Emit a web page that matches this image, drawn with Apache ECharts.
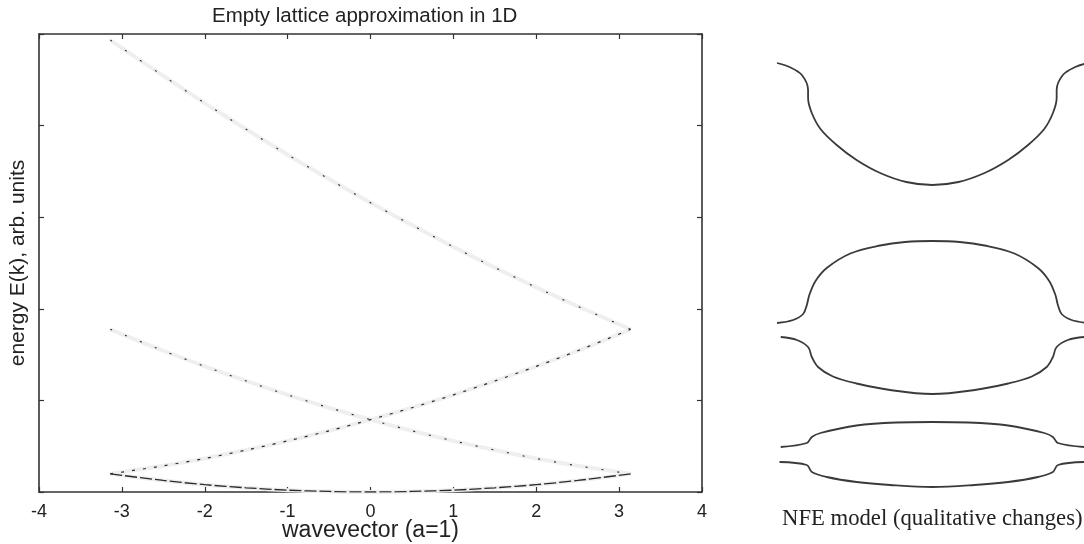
<!DOCTYPE html>
<html>
<head>
<meta charset="utf-8">
<script src="https://cdn.jsdelivr.net/npm/echarts@6/dist/echarts.min.js"></script>
<style>html,body{margin:0;padding:0;background:#fff}#c{width:1084px;height:544px}</style>
</head>
<body>
<div id="c"></div>
<script>
// ---- Left panel: empty lattice bands (wavevector k, energy E) ----
var kVals = [-3.14, -2.5, -2, -1.5, -1, -0.5, 0, 0.5, 1, 1.5, 2, 2.5, 3.14];
var band0 = [9.9, 6.3, 4.0, 2.3, 1.0, 0.3, 0, 0.3, 1.0, 2.3, 4.0, 6.3, 9.9];
var bandPlus = [9.9, 14.3, 18.3, 22.9, 27.9, 33.4, 39.5, 46.0, 53.0, 60.6, 68.6, 77.1, 88.8];
var bandMinus = [88.8, 77.1, 68.6, 60.6, 53.0, 46.0, 39.5, 33.4, 27.9, 22.9, 18.3, 14.3, 9.9];
var bandMinus2 = [246.7, 227.1, 212.3, 198.0, 184.1, 170.8, 157.9, 145.7, 133.8, 122.5, 111.7, 101.4, 88.8];
var xTicks = [-4, -3, -2, -1, 0, 1, 2, 3, 4];

// ---- Right panel: NFE model qualitative curves (k in zone units, E arb.) ----
var nfeTopK = [-1.25, -1.15, -1.05, -1.00, -1.00, -0.97, -0.90, -0.77, -0.61, -0.42, -0.21, 0, 0.21, 0.42, 0.61, 0.77, 0.90, 0.97, 1.00, 1.00, 1.05, 1.15, 1.25];
var nfeTopE = [8.74, 8.66, 8.50, 8.20, 8.04, 7.74, 7.42, 7.10, 6.80, 6.54, 6.36, 6.30, 6.36, 6.54, 6.80, 7.10, 7.42, 7.74, 8.04, 8.20, 8.50, 8.66, 8.74];
var nfeMidUpK = [-1.25, -1.12, -1.04, -1.01, -0.99, -0.94, -0.85, -0.66, -0.42, -0.22, 0, 0.22, 0.42, 0.66, 0.85, 0.94, 0.99, 1.01, 1.04, 1.12, 1.25];
var nfeMidUpE = [3.54, 3.60, 3.72, 3.90, 4.10, 4.38, 4.64, 4.93, 5.09, 5.16, 5.18, 5.16, 5.09, 4.93, 4.64, 4.38, 4.10, 3.90, 3.72, 3.60, 3.54];
var nfeMidLoK = [-1.22, -1.09, -1.00, -0.97, -0.92, -0.80, -0.61, -0.34, 0, 0.34, 0.61, 0.80, 0.92, 0.97, 1.00, 1.09, 1.22];
var nfeMidLoE = [3.26, 3.20, 3.06, 2.86, 2.66, 2.47, 2.33, 2.20, 2.12, 2.20, 2.33, 2.47, 2.66, 2.86, 3.06, 3.20, 3.26];
var nfeLowUpK = [-1.22, -1.01, -0.97, -0.90, -0.61, -0.29, 0, 0.29, 0.61, 0.90, 0.97, 1.01, 1.22];
var nfeLowUpE = [1.06, 1.14, 1.26, 1.34, 1.49, 1.55, 1.56, 1.55, 1.49, 1.34, 1.26, 1.14, 1.06];
var nfeLowLoK = [-1.23, -1.01, -0.97, -0.85, -0.61, -0.34, 0, 0.34, 0.61, 0.85, 0.97, 1.01, 1.23];
var nfeLowLoE = [0.76, 0.70, 0.56, 0.46, 0.36, 0.30, 0.26, 0.30, 0.36, 0.46, 0.56, 0.70, 0.76];

function zip(a, b) { return a.map(function (v, i) { return [v, b[i]]; }); }

var sans = "'Liberation Sans', Arial, sans-serif";
var axisCol = '#333';

function bandSeries(vals, dash, width) {
  return [
    { type: 'line', xAxisIndex: 0, yAxisIndex: 0, data: zip(kVals, vals), showSymbol: false, smooth: 0.3,
      lineStyle: { color: '#efefef', width: 4 }, silent: true, z: 2 },
    { type: 'line', xAxisIndex: 0, yAxisIndex: 0, data: zip(kVals, vals), showSymbol: false, smooth: 0.3,
      lineStyle: { color: '#2a2a2a', width: width, type: dash }, silent: true, z: 3 }
  ];
}
function nfeSeries(k, e) {
  return { type: 'line', xAxisIndex: 2, yAxisIndex: 2, data: zip(k, e), showSymbol: false, smooth: 0.35,
    lineStyle: { color: '#3a3a3a', width: 1.8 }, silent: true, z: 3 };
}

var series = []
  .concat(bandSeries(band0, [12, 3], 1.3))
  .concat(bandSeries(bandPlus, [3, 8], 1.2))
  .concat(bandSeries(bandMinus, [2, 14], 1.1))
  .concat(bandSeries(bandMinus2, [2, 16], 1.1));
series.push(nfeSeries(nfeTopK, nfeTopE));
series.push(nfeSeries(nfeMidUpK, nfeMidUpE));
series.push(nfeSeries(nfeMidLoK, nfeMidLoE));
series.push(nfeSeries(nfeLowUpK, nfeLowUpE));
series.push(nfeSeries(nfeLowLoK, nfeLowLoE));

function frameAxis() {
  return {
    axisLine: { show: true, onZero: false, lineStyle: { color: axisCol, width: 1.6 } },
    axisTick: { show: true, inside: true, length: 5, lineStyle: { color: axisCol, width: 1.2 } },
    splitLine: { show: false }
  };
}

var chart = echarts.init(document.getElementById('c'), null, { renderer: 'canvas' });
chart.setOption({
  animation: false,
  backgroundColor: '#fff',
  grid: [
    { left: 39, right: 382, top: 34, bottom: 52, containLabel: false, outerBoundsMode: 'none' },
    { left: 777, right: 0, top: 50, bottom: 44, containLabel: false, outerBoundsMode: 'none' }
  ],
  xAxis: [
    Object.assign(frameAxis(), { type: 'value', gridIndex: 0, min: xTicks[0], max: xTicks[xTicks.length - 1], interval: 1, position: 'bottom',
      axisLabel: { fontSize: 18, color: '#222', fontFamily: sans, margin: 11 },
      name: 'wavevector (a=1)', nameLocation: 'middle', nameGap: 27, nameMoveOverlap: false,
      nameTextStyle: { fontSize: 23, color: '#222', fontFamily: sans } }),
    Object.assign(frameAxis(), { type: 'value', gridIndex: 0, min: -4, max: 4, interval: 1, position: 'top', axisLabel: { show: false } }),
    { type: 'value', gridIndex: 1, min: -1.25, max: 1.22, show: false }
  ],
  yAxis: [
    Object.assign(frameAxis(), { type: 'value', gridIndex: 0, min: 0, max: 250, interval: 50, position: 'left', axisLabel: { show: false },
      name: 'energy E(k), arb. units', nameLocation: 'middle', nameGap: 10, nameMoveOverlap: false,
      nameTextStyle: { fontSize: 21, color: '#222', fontFamily: sans } }),
    Object.assign(frameAxis(), { type: 'value', gridIndex: 0, min: 0, max: 250, interval: 50, position: 'right', axisLabel: { show: false } }),
    { type: 'value', gridIndex: 1, min: 0, max: 9, show: false }
  ],
  graphic: [
    { type: 'text', left: 212, top: 6, style: { text: 'Empty lattice approximation in 1D', fontSize: 20.5, fontFamily: sans, fill: '#222' } },
    { type: 'text', left: 782, top: 508, style: { text: 'NFE model (qualitative changes)', fontSize: 22.7, fontFamily: "'Liberation Serif', 'Times New Roman', serif", fill: '#222' } }
  ],
  series: series
});
</script>
</body>
</html>
